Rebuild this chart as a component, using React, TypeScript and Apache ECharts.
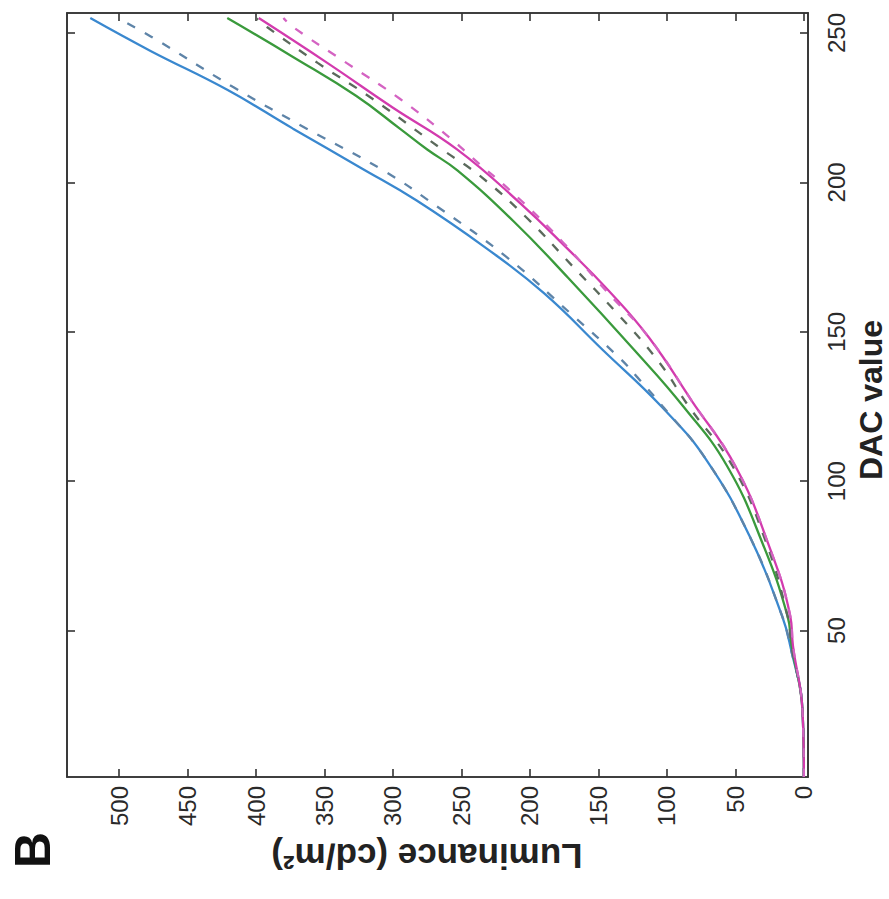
import React, { useEffect, useRef } from "react";
import * as echarts from "echarts";

// Each curve: [DAC value, luminance (cd/m²)]
const blueSolid: number[][] = [
  [1, 0], [23, 1], [45, 10], [55, 16], [81, 39], [107, 71], [125, 104], [144, 147],
  [163, 190], [178, 232], [194, 283], [205, 324], [218, 373], [231, 421], [244, 477], [255, 521],
];
const blueDashed: number[][] = [
  [1, 0], [23, 1], [45, 10], [55, 16], [81, 39], [107, 71], [125, 103], [135, 122],
  [141, 134], [156, 170], [175, 217], [192, 268], [204, 307], [218, 363], [232, 417], [247, 470], [255, 501],
];
const greenSolid: number[][] = [
  [1, 0], [23, 1], [45, 9], [55, 12], [79, 30], [105, 56], [125, 88], [144, 124],
  [168, 172], [187, 212], [204, 253], [211, 275], [218, 295], [229, 327], [242, 373], [255, 421],
];
const greenDashed: number[][] = [
  [1, 0], [23, 1], [45, 9], [55, 12], [80, 28], [105, 52], [125, 84], [140, 106],
  [156, 136], [172, 169], [188, 202], [202, 236], [211, 264], [228, 315], [240, 355], [252, 392], [255, 400],
];
const magentaSolid: number[][] = [
  [1, 0], [23, 1], [45, 8], [55, 10], [79, 26], [105, 50], [127, 82], [148, 113],
  [164, 143], [178, 173], [193, 207], [211, 253], [225, 300], [240, 348], [255, 398],
];
const magentaDashed: number[][] = [
  [1, 0], [23, 1], [45, 8], [55, 10], [79, 26], [105, 50], [127, 82], [148, 113],
  [163, 143], [180, 176], [195, 209], [209, 244], [214, 256], [228, 295], [240, 334], [252, 373], [255, 380],
];

const dacTicks = [50, 100, 150, 200, 250];
const lumTicks = [0, 50, 100, 150, 200, 250, 300, 350, 400, 450, 500];

const FONT = "'Liberation Sans', Arial, Helvetica, sans-serif";

export default function App() {
  const ref = useRef<HTMLDivElement>(null);
  useEffect(() => {
    if (!ref.current) return;
    const chart = echarts.init(ref.current, null, { renderer: "svg" });

    const mk = (name: string, d: number[][], color: string, dashed: boolean) => ({
      name,
      type: "line",
      data: d.map((p) => [p[1], p[0]]),
      showSymbol: false,
      smooth: 0.45,
      lineStyle: { color, width: 2.3, type: dashed ? [9, 11] : "solid" },
      z: dashed ? 3 : 2,
    });

    const axisLine = { show: true, onZero: false, lineStyle: { color: "#333", width: 1.6 } };
    const tick = { show: true, inside: true, length: 8, lineStyle: { color: "#333", width: 1.6 } };

    chart.setOption({
      animation: false,
      backgroundColor: "#fff",
      grid: {
        left: 67, top: 13, right: 81, bottom: 122, containLabel: false,
        show: true, borderColor: "#333", borderWidth: 1.6, backgroundColor: "transparent",
      },
      xAxis: [
        {
          type: "value",
          inverse: true,
          min: -3,
          max: 538,
          position: "bottom",
          axisLine,
          axisTick: { ...tick, customValues: lumTicks },
          axisLabel: {
            customValues: lumTicks,
            rotate: 90,
            margin: 9,
            fontSize: 24,
            fontFamily: FONT,
            color: "#2a2a2a",
          },
          splitLine: { show: false },
        },
        {
          type: "value",
          inverse: true,
          min: -3,
          max: 538,
          position: "top",
          axisLine,
          axisTick: { ...tick, customValues: lumTicks },
          axisLabel: { show: false, customValues: lumTicks },
          splitLine: { show: false },
        },
      ],
      yAxis: [
        {
          type: "value",
          min: 1,
          max: 256.7,
          position: "right",
          axisLine,
          axisTick: { ...tick, customValues: dacTicks },
          axisLabel: {
            customValues: dacTicks,
            rotate: 90,
            margin: 16,
            fontSize: 24,
            fontFamily: FONT,
            color: "#2a2a2a",
          },
          splitLine: { show: false },
        },
        {
          type: "value",
          min: 1,
          max: 256.7,
          position: "left",
          axisLine,
          axisTick: { ...tick, customValues: dacTicks },
          axisLabel: { show: false, customValues: dacTicks },
          splitLine: { show: false },
        },
      ],
      series: [
        mk("Blue", blueSolid, "#3a88cf", false),
        mk("Blue fit", blueDashed, "#5e84a8", true),
        mk("Green", greenSolid, "#3a9a3c", false),
        mk("Green fit", greenDashed, "#5b6a5c", true),
        mk("Magenta", magentaSolid, "#d33bae", false),
        mk("Magenta fit", magentaDashed, "#d463c2", true),
      ],
      graphic: [
        {
          type: "text",
          x: 427,
          y: 856,
          rotation: Math.PI,
          style: {
            text: "Luminance (cd/m²)",
            font: `bold 35px ${FONT}`,
            fill: "#222",
            textAlign: "center",
            textVerticalAlign: "middle",
          },
        },
        {
          type: "text",
          x: 871,
          y: 400,
          rotation: Math.PI / 2,
          style: {
            text: "DAC value",
            font: `bold 32px ${FONT}`,
            fill: "#222",
            textAlign: "center",
            textVerticalAlign: "middle",
          },
        },
        {
          type: "text",
          x: 33,
          y: 850,
          rotation: Math.PI / 2,
          style: {
            text: "B",
            font: `bold 50px ${FONT}`,
            fill: "#111",
            textAlign: "center",
            textVerticalAlign: "middle",
          },
        },
      ],
    });
    return () => chart.dispose();
  }, []);
  return <div ref={ref} style={{ width: 889, height: 899, position: "absolute", left: 0, top: 0 }} />;
}
